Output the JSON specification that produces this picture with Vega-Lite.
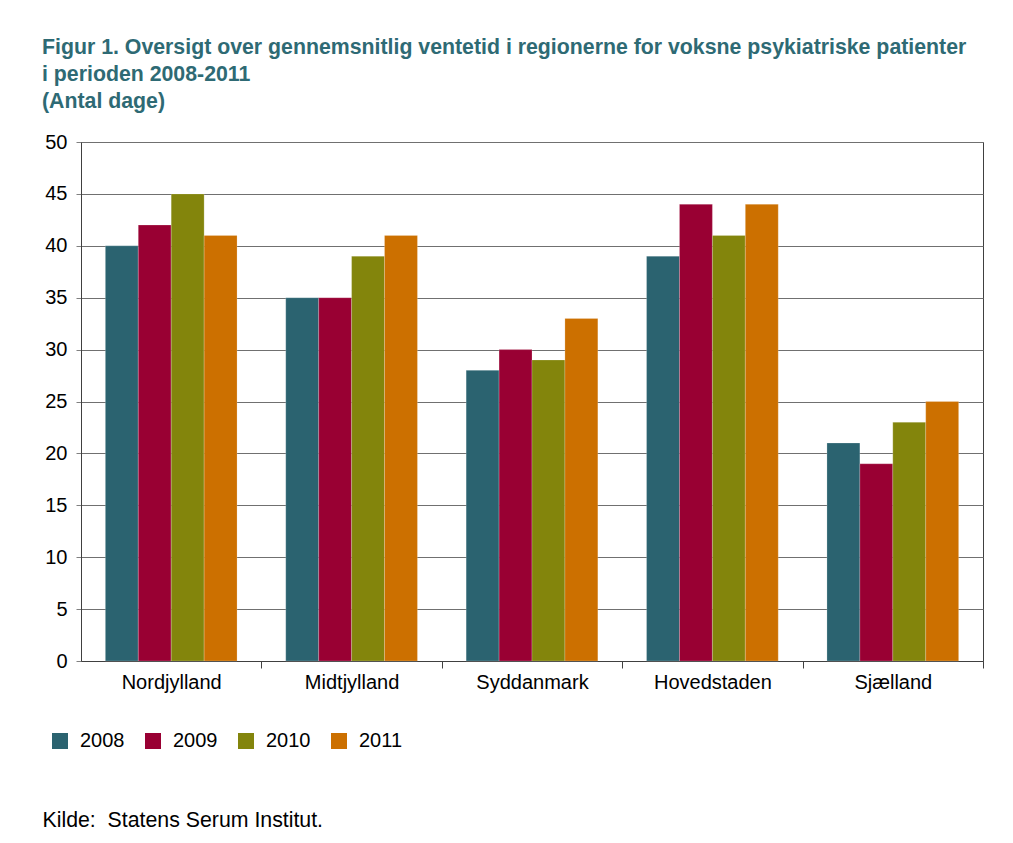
{
  "$schema": "https://vega.github.io/schema/vega-lite/v6.json",
  "width": 902,
  "height": 519,
  "padding": {"left": 42, "top": 36, "right": 5, "bottom": 5},
  "background": "white",
  "title": {
    "text": ["Figur 1. Oversigt over gennemsnitlig ventetid i regionerne for voksne psykiatriske patienter", "i perioden 2008-2011", "(Antal dage)"],
    "anchor": "start",
    "frame": "bounds",
    "font": "Liberation Sans",
    "fontSize": 21.3,
    "fontWeight": "bold",
    "color": "#2E6A74",
    "lineHeight": 27,
    "offset": 20
  },
  "data": {
    "values": [
      {"region": "Nordjylland", "year": "2008", "days": 40},
      {"region": "Nordjylland", "year": "2009", "days": 42},
      {"region": "Nordjylland", "year": "2010", "days": 45},
      {"region": "Nordjylland", "year": "2011", "days": 41},
      {"region": "Midtjylland", "year": "2008", "days": 35},
      {"region": "Midtjylland", "year": "2009", "days": 35},
      {"region": "Midtjylland", "year": "2010", "days": 39},
      {"region": "Midtjylland", "year": "2011", "days": 41},
      {"region": "Syddanmark", "year": "2008", "days": 28},
      {"region": "Syddanmark", "year": "2009", "days": 30},
      {"region": "Syddanmark", "year": "2010", "days": 29},
      {"region": "Syddanmark", "year": "2011", "days": 33},
      {"region": "Hovedstaden", "year": "2008", "days": 39},
      {"region": "Hovedstaden", "year": "2009", "days": 44},
      {"region": "Hovedstaden", "year": "2010", "days": 41},
      {"region": "Hovedstaden", "year": "2011", "days": 44},
      {"region": "Sjælland", "year": "2008", "days": 21},
      {"region": "Sjælland", "year": "2009", "days": 19},
      {"region": "Sjælland", "year": "2010", "days": 23},
      {"region": "Sjælland", "year": "2011", "days": 25}
    ]
  },
  "mark": {"type": "bar", "stroke": "#ffffff", "strokeWidth": 0.4, "strokeOpacity": 0.5},
  "encoding": {
    "x": {
      "field": "region",
      "type": "nominal",
      "sort": null,
      "scale": {"paddingInner": 0.27, "paddingOuter": 0.135},
      "axis": {
        "title": "Kilde:\u00a0\u00a0Statens Serum Institut.",
        "titleAnchor": "start",
        "titleX": -39,
        "titleY": 159,
        "titleBaseline": "middle",
        "titleFont": "Liberation Sans",
        "titleFontSize": 21.3,
        "titleFontWeight": "normal",
        "titleColor": "#000000",
        "labelAngle": 0,
        "labelFont": "Liberation Sans",
        "labelFontSize": 20,
        "labelColor": "#000000",
        "labelPadding": 4,
        "tickOffset": 90.2,
        "labelOffset": -90.2,
        "tickSize": 7,
        "tickColor": "#404040",
        "domainColor": "#404040",
        "grid": false
      }
    },
    "xOffset": {"field": "year", "type": "nominal"},
    "y": {
      "field": "days",
      "type": "quantitative",
      "scale": {"domain": [0, 50]},
      "axis": {
        "title": null,
        "values": [0, 5, 10, 15, 20, 25, 30, 35, 40, 45, 50],
        "labelFont": "Liberation Sans",
        "labelFontSize": 20,
        "labelColor": "#000000",
        "labelPadding": 9,
        "tickSize": 5,
        "tickColor": "#808080",
        "domainColor": "#404040",
        "gridColor": "#707070",
        "gridOpacity": 1,
        "gridWidth": 1
      }
    },
    "color": {
      "field": "year",
      "type": "nominal",
      "scale": {"domain": ["2008", "2009", "2010", "2011"], "range": ["#2B6370", "#990033", "#83850C", "#CC7000"]},
      "legend": {
        "title": null,
        "orient": "none",
        "direction": "horizontal",
        "legendX": -31,
        "legendY": 589,
        "symbolType": "square",
        "symbolSize": 256,
        "symbolStrokeWidth": 0,
        "labelFont": "Liberation Sans",
        "labelFontSize": 20,
        "labelColor": "#000000",
        "labelOffset": 10,
        "columnPadding": 18
      }
    }
  },
  "config": {
    "view": {"stroke": "#404040", "strokeWidth": 1},
    "axis": {"domainWidth": 1, "tickWidth": 1}
  }
}
